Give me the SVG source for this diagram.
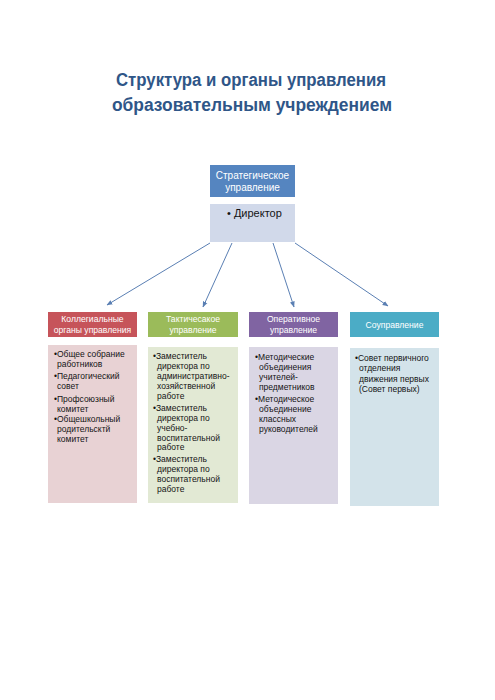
<svg xmlns="http://www.w3.org/2000/svg" width="495" height="700" viewBox="0 0 495 700">
<style>
.title{font-family:"Liberation Sans",Arial,sans-serif;font-weight:bold;font-size:17.5px;fill:#2f5688;text-anchor:middle}
.hd{font-family:"Liberation Sans",Arial,sans-serif;font-size:8.6px;fill:#ffffff;text-anchor:middle}
.bd{font-family:"Liberation Sans",Arial,sans-serif;font-size:8.5px;fill:#141414}
.conn{stroke:#5a7fb3;stroke-width:1;fill:none;marker-end:url(#ah)}
</style>
<defs>
<marker id="ah" viewBox="0 0 10 10" refX="9" refY="5" markerWidth="6" markerHeight="6" orient="auto" markerUnits="userSpaceOnUse">
<path d="M0,1 L10,5 L0,9 z" fill="#5a7fb3"/>
</marker>
</defs>
<rect width="495" height="700" fill="#ffffff"/>
<g id="title">
<text class="title" x="251" y="86" textLength="270" lengthAdjust="spacingAndGlyphs">Структура и органы управления</text>
<text class="title" x="252" y="111" textLength="280" lengthAdjust="spacingAndGlyphs">образовательным учреждением</text>
</g>
<g id="strategic">
<rect x="210" y="165" width="85" height="32" fill="#5585c0"/>
<text class="hd" x="252.5" y="179" style="font-size:10px">Стратегическое</text>
<text class="hd" x="252.5" y="190.5" style="font-size:10px">управление</text>
</g>
<g id="director">
<rect x="210" y="204" width="85" height="38" fill="#d1d9ea"/>
<text class="bd" x="227" y="217" style="font-size:11px">• Директор</text>
</g>
<g id="connectors">
<line class="conn" x1="210" y1="243" x2="107" y2="305"/>
<line class="conn" x1="232" y1="243" x2="203" y2="307"/>
<line class="conn" x1="273" y1="243" x2="294" y2="307"/>
<line class="conn" x1="295" y1="243" x2="388" y2="306"/>
</g>
<g id="collegial">
<rect x="48" y="312" width="89" height="25" fill="#c6545a"/>
<text class="hd" x="92.5" y="322">Коллегиальные</text>
<text class="hd" x="92.5" y="333">органы управления</text>
<rect x="48" y="345" width="89" height="158" fill="#e8d2d4"/>
<text class="bd">
<tspan x="54" y="357">•Общее собрание</tspan>
<tspan x="57" y="367">работников</tspan>
<tspan x="54" y="379">•Педагогический</tspan>
<tspan x="57" y="389">совет</tspan>
<tspan x="54" y="402">•Профсоюзный</tspan>
<tspan x="57" y="412">комитет</tspan>
<tspan x="54" y="422">•Общешкольный</tspan>
<tspan x="57" y="432">родительсктй</tspan>
<tspan x="57" y="442">комитет</tspan>
</text>
</g>
<g id="tactical">
<rect x="148" y="312" width="90" height="25" fill="#9bbb5a"/>
<text class="hd" x="193" y="322">Тактичесакое</text>
<text class="hd" x="193" y="333">управление</text>
<rect x="148" y="347" width="90" height="156" fill="#e2e9d4"/>
<text class="bd">
<tspan x="153" y="359">•Заместитель</tspan>
<tspan x="157" y="369">директора по</tspan>
<tspan x="157" y="379">административно-</tspan>
<tspan x="157" y="389">хозяйственной</tspan>
<tspan x="157" y="399">работе</tspan>
<tspan x="153" y="411">•Заместитель</tspan>
<tspan x="157" y="421">директора по</tspan>
<tspan x="157" y="431">учебно-</tspan>
<tspan x="157" y="441">воспитательной</tspan>
<tspan x="157" y="450">работе</tspan>
<tspan x="153" y="462">•Заместитель</tspan>
<tspan x="157" y="472">директора по</tspan>
<tspan x="157" y="482">воспитательной</tspan>
<tspan x="157" y="492">работе</tspan>
</text>
</g>
<g id="operative">
<rect x="249" y="312" width="89" height="25" fill="#8064a2"/>
<text class="hd" x="293.5" y="322">Оперативное</text>
<text class="hd" x="293.5" y="333">управление</text>
<rect x="249" y="347" width="89" height="157" fill="#dad6e4"/>
<text class="bd">
<tspan x="255" y="360">•Методические</tspan>
<tspan x="259" y="370">объединения</tspan>
<tspan x="259" y="380">учителей-</tspan>
<tspan x="259" y="390">предметников</tspan>
<tspan x="255" y="402">•Методическое</tspan>
<tspan x="259" y="412">объединение</tspan>
<tspan x="259" y="422">классных</tspan>
<tspan x="259" y="432">руководителей</tspan>
</text>
</g>
<g id="cogovernance">
<rect x="350" y="312" width="89" height="25" fill="#4bacc6"/>
<text class="hd" x="394.5" y="328">Соуправление</text>
<rect x="350" y="348" width="89" height="158" fill="#d3e3ea"/>
<text class="bd">
<tspan x="355" y="361">•Совет первичного</tspan>
<tspan x="359" y="371">отделения</tspan>
<tspan x="359" y="382">движения первых</tspan>
<tspan x="359" y="392">(Совет первых)</tspan>
</text>
</g>
</svg>
